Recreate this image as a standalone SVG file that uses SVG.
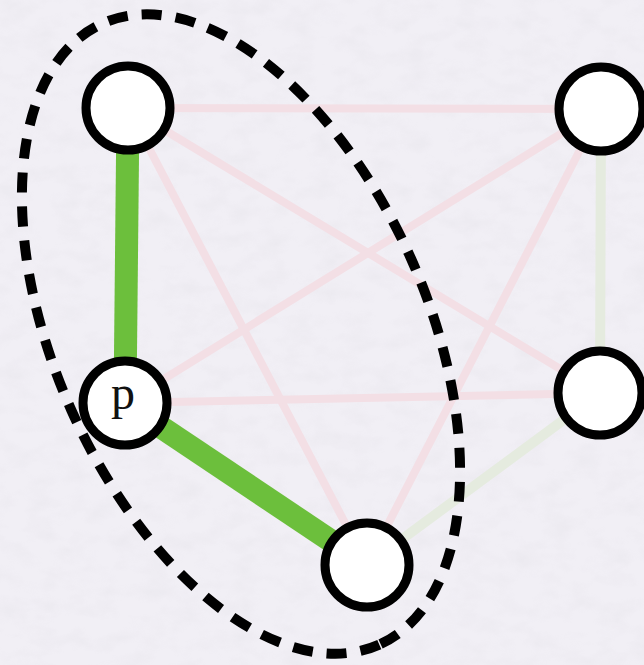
<svg xmlns="http://www.w3.org/2000/svg" width="644" height="665" viewBox="0 0 644 665">
  <style>
    .pink { stroke: #f3dfe5; stroke-width: 8; stroke-linecap: round; fill: none; }
    .faint { stroke: #e5ebdf; stroke-width: 10; stroke-linecap: round; fill: none; }
    .green { stroke: #6cbf3c; stroke-width: 23; stroke-linecap: butt; fill: none; }
    .node circle { fill: #ffffff; stroke: #000000; stroke-width: 9; }
    .label { font-family: "Liberation Serif", "DejaVu Serif", serif; font-size: 48px; fill: #111111; text-anchor: middle; }
    .group { fill: none; stroke: #000000; stroke-width: 10; stroke-dasharray: 20 14; }
  </style>
  <defs>
    <filter id="paper" x="0" y="0" width="100%" height="100%">
      <feTurbulence type="fractalNoise" baseFrequency="0.035 0.06" numOctaves="3" seed="4" result="n"/>
      <feColorMatrix in="n" type="matrix" values="0 0 0 0 0.55  0 0 0 0 0.54  0 0 0 0 0.58  0 0 0 -1.2 0.7"/>
    </filter>
  </defs>
  <rect width="644" height="665" fill="#f1eff5"/>
  <rect width="644" height="665" filter="url(#paper)" opacity="0.18"/>

  <g id="connectors">
    <line class="pink" x1="128" y1="108" x2="601" y2="109"/>
    <line class="pink" x1="128" y1="108" x2="600" y2="393"/>
    <line class="pink" x1="128" y1="108" x2="367" y2="565"/>
    <line class="pink" x1="601" y1="109" x2="125" y2="403"/>
    <line class="pink" x1="601" y1="109" x2="367" y2="565"/>
    <line class="pink" x1="125" y1="403" x2="600" y2="393"/>
    <line class="faint" x1="601" y1="109" x2="600" y2="393"/>
    <line class="faint" x1="600" y1="393" x2="367" y2="565"/>
    <line class="green" x1="128" y1="108" x2="125" y2="403"/>
    <line class="green" x1="125" y1="403" x2="367" y2="565"/>
  </g>

  <g id="node-tl" class="node"><circle cx="128" cy="108" r="42"/></g>
  <g id="node-tr" class="node"><circle cx="601" cy="109" r="42"/></g>
  <g id="node-p" class="node"><circle cx="125" cy="403" r="42"/><text class="label" x="123" y="409">p</text></g>
  <g id="node-rm" class="node"><circle cx="600" cy="393" r="42"/></g>
  <g id="node-b" class="node"><circle cx="367" cy="565" r="42"/></g>

  <g id="cluster">
    <ellipse class="group" cx="241" cy="334" rx="340" ry="186" transform="rotate(66 241 334)"/>
  </g>
</svg>
